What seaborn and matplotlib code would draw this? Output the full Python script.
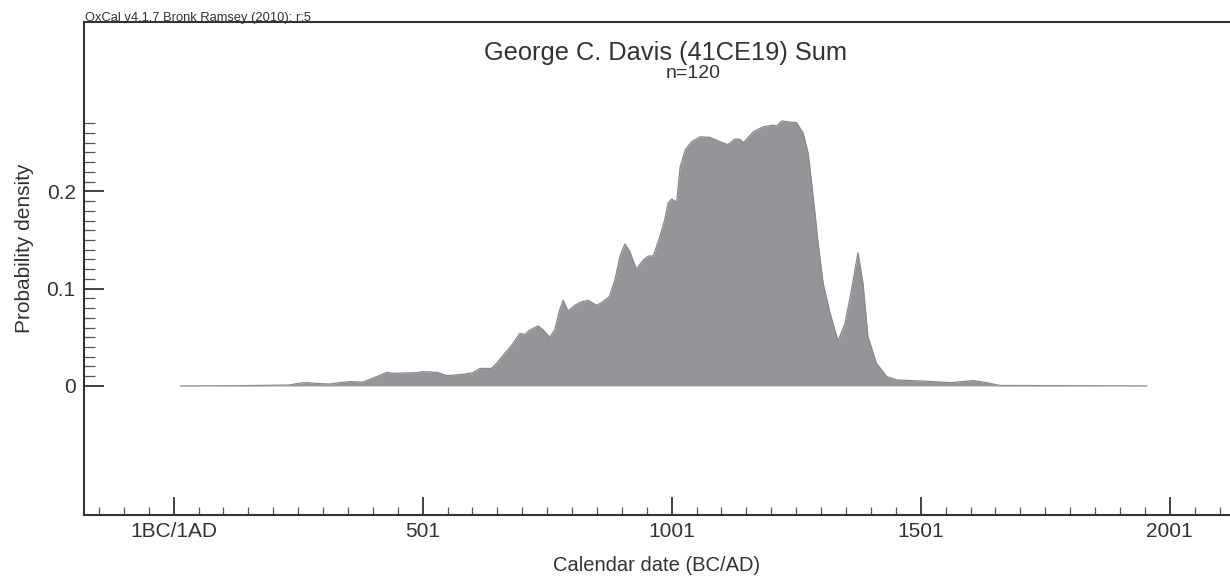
import numpy as np
import matplotlib
matplotlib.use("Agg")
import matplotlib.pyplot as plt
import seaborn as sns
from matplotlib.ticker import FixedLocator

# ---- data ----
years = [15, 120, 174, 234, 254, 268, 291, 315, 335, 355, 381, 401, 429, 441, 489,
         501, 530, 550, 582, 602, 616, 639, 649, 666, 680, 696, 706, 716, 733, 743,
         756, 766, 776, 783, 793, 807, 817, 833, 850, 860, 876, 887, 897, 907, 917,
         930, 944, 954, 964, 977, 987, 994, 1001, 1011, 1018, 1028, 1041, 1058, 1078,
         1098, 1114, 1128, 1138, 1145, 1165, 1185, 1205, 1212, 1222, 1239, 1252, 1265,
         1275, 1285, 1295, 1305, 1319, 1335, 1349, 1362, 1375, 1385, 1395, 1412, 1433,
         1453, 1526, 1560, 1607, 1633, 1660, 1780, 1955]
density = [0.0, 0.0002, 0.0005, 0.001, 0.003, 0.0034, 0.0025, 0.002, 0.0035, 0.0045,
           0.004, 0.008, 0.014, 0.013, 0.0137, 0.0147, 0.014, 0.0106, 0.012, 0.0137,
           0.018, 0.018, 0.023, 0.0336, 0.042, 0.054, 0.053, 0.0575, 0.0617, 0.0575,
           0.050, 0.0575, 0.078, 0.088, 0.077, 0.083, 0.086, 0.088, 0.083, 0.0856,
           0.0918, 0.109, 0.133, 0.146, 0.138, 0.120, 0.1295, 0.1336, 0.1336, 0.153,
           0.1706, 0.188, 0.192, 0.189, 0.225, 0.2425, 0.251, 0.256, 0.2555, 0.251,
           0.248, 0.2538, 0.2534, 0.250, 0.2613, 0.2664, 0.268, 0.267, 0.2723, 0.2712,
           0.2705, 0.2596, 0.239, 0.1945, 0.1466, 0.1055, 0.0747, 0.0462, 0.0644,
           0.0986, 0.137, 0.1055, 0.0507, 0.0233, 0.0096, 0.0062, 0.0045, 0.0034,
           0.0055, 0.0034, 0.0005, 0.0003, 0.0]

x_major = [1, 501, 1001, 1501, 2001]
x_major_labels = ["1BC/1AD", "501", "1001", "1501", "2001"]
y_major = [0.0, 0.1, 0.2]
y_major_labels = ["0", "0.1", "0.2"]

title = "George C. Davis (41CE19) Sum"
subtitle = "n=120"
credit = "OxCal v4.1.7 Bronk Ramsey (2010); r:5"

# ---- style ----
sns.set_theme(style="white")
plt.rcParams["font.family"] = ["Liberation Sans", "DejaVu Sans"]
text_col = "#333333"
fill_col = "#939598"

fig = plt.figure(figsize=(12.3, 5.76), dpi=100)
W, H = 1230, 576
ax = fig.add_axes([84 / W, (H - 515) / H, 1 - 84 / W, (515 - 22) / H])

sns.lineplot(x=years, y=density, ax=ax, color="#88898c", linewidth=0.9)
ax.fill_between(years, density, 0, color=fill_col, linewidth=0)

ax.set_xlim(-179, 2122)
ax.set_ylim(-0.1326, 0.374)

for side in ["left", "bottom", "top"]:
    ax.spines[side].set_visible(True)
    ax.spines[side].set_color(text_col)
    ax.spines[side].set_linewidth(1.5)
ax.spines["right"].set_visible(False)

ax.set_xticks(x_major)
ax.set_xticklabels(x_major_labels)
ax.set_yticks(y_major)
ax.set_yticklabels(y_major_labels)
ax.xaxis.set_minor_locator(FixedLocator([v for v in np.arange(-149, 2122, 50) if v not in x_major]))
ax.yaxis.set_minor_locator(FixedLocator([round(v, 2) for v in np.arange(0.01, 0.275, 0.01)
                                         if round(v, 2) not in y_major]))

ax.tick_params(axis="x", which="major", direction="in", length=13, width=1.3,
               color=text_col, labelsize=15, labelcolor=text_col, pad=5, bottom=True, top=False)
ax.tick_params(axis="x", which="minor", direction="in", length=6, width=0.9,
               color="#555555", bottom=True, top=False)
ax.tick_params(axis="y", which="major", direction="in", length=14.5, width=1.3,
               color=text_col, labelsize=15, labelcolor=text_col, pad=6, left=True, right=False)
ax.tick_params(axis="y", which="minor", direction="in", length=8, width=0.9,
               color="#555555", left=True, right=False)

ax.set_xlabel("Calendar date (BC/AD)", fontsize=14.5, color=text_col, labelpad=11)
ax.set_ylabel("Probability density", fontsize=15, color=text_col)
ax.yaxis.set_label_coords(-0.0435, (515 - 248) / (515 - 22))

fig.text(665 / W, 1 - 53 / H, title, ha="center", va="center", fontsize=18.3, color=text_col)
fig.text(693 / W, 1 - 74 / H, subtitle, ha="center", va="center", fontsize=14, color=text_col)
fig.text(85 / W, 1 - 21 / H, credit, ha="left", va="baseline", fontsize=9.3, color=text_col)

fig.savefig("out.png", dpi=100)
